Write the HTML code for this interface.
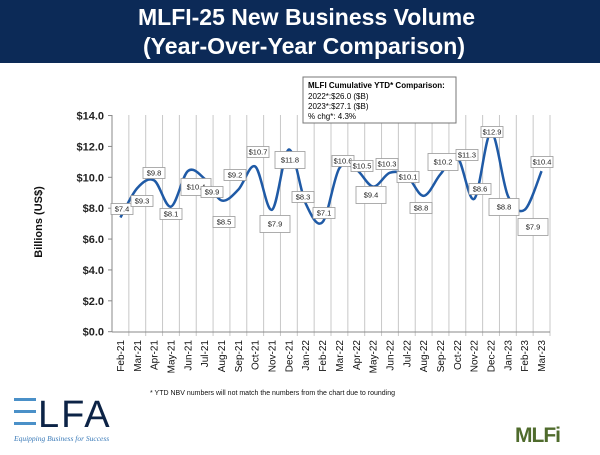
<!DOCTYPE html>
<html><head><meta charset="utf-8"><style>
body{margin:0;width:600px;height:450px;background:#fff;overflow:hidden;font-family:"Liberation Sans",sans-serif}
</style></head><body>
<svg width="600" height="450" xmlns="http://www.w3.org/2000/svg" font-family="Liberation Sans, sans-serif">
<rect x="0" y="0" width="600" height="63" fill="#0c2a57"/>
<text x="138" y="25" fill="#fff" font-size="23" font-weight="bold" textLength="337" lengthAdjust="spacingAndGlyphs">MLFI-25 New Business Volume</text>
<text x="143" y="54" fill="#fff" font-size="23" font-weight="bold" textLength="322" lengthAdjust="spacingAndGlyphs">(Year-Over-Year Comparison)</text>
<g id="grid" stroke="#c8c8c8" stroke-width="1"></g>
<line x1="112" y1="115" x2="112" y2="332" stroke="#888"/>
<line x1="112" y1="332" x2="550" y2="332" stroke="#888"/>
<g id="yl" font-size="11" font-weight="bold" text-anchor="end" fill="#222"></g>
<text transform="translate(42,222) rotate(-90)" font-size="11" font-weight="bold" text-anchor="middle" fill="#111">Billions (US$)</text>
<g id="xl" font-size="10" fill="#111" text-anchor="end"></g>
<path id="ln" fill="none" stroke="#1f5aa6" stroke-width="2.5"/>
<g id="lb" font-size="7.5" text-anchor="middle" fill="#222"></g>
<rect x="303" y="77" width="153" height="46" fill="#fff" stroke="#777"/>
<text x="308" y="88" font-size="8" font-weight="bold">MLFI Cumulative YTD* Comparison:</text>
<text x="308" y="99" font-size="8">2022*:$26.0 ($B)</text>
<text x="308" y="109" font-size="8">2023*:$27.1 ($B)</text>
<text x="308" y="119" font-size="8">% chg*:  4.3%</text>
<text x="150" y="395" font-size="7" fill="#111">*  YTD NBV numbers will not match the numbers from the chart due to rounding</text>
<rect x="14" y="398" width="22" height="3" fill="#4a90c8"/>
<rect x="14" y="410" width="22" height="3" fill="#4a90c8"/>
<rect x="14" y="422" width="22" height="3" fill="#4a90c8"/>
<text x="38" y="427" font-size="38" fill="#0c2346" letter-spacing="2">LFA</text>
<text x="14" y="441" font-size="7.5" font-style="italic" font-family="Liberation Serif, serif" fill="#3a7ab8">Equipping Business for Success</text>
<text x="515" y="442" font-size="21" font-weight="bold" fill="#4f6b2c" letter-spacing="-1">MLFi</text>
</svg>
<script>
const ns="http://www.w3.org/2000/svg";
const v=[7.4,9.3,9.8,8.1,10.4,9.9,8.5,9.2,10.7,7.9,11.8,8.3,7.1,10.6,10.5,9.4,10.3,10.1,8.8,10.2,11.3,8.6,12.9,8.8,7.9,10.4];
const m=["Feb-21","Mar-21","Apr-21","May-21","Jun-21","Jul-21","Aug-21","Sep-21","Oct-21","Nov-21","Dec-21","Jan-22","Feb-22","Mar-22","Apr-22","May-22","Jun-22","Jul-22","Aug-22","Sep-22","Oct-22","Nov-22","Dec-22","Jan-23","Feb-23","Mar-23"];
const L=[[122,209],[142,201],[154,173],[171,214],[196,187,1],[212,192],[224,222],[235,175],[258,152],[275,224,1],[290,160,1],[303,197],[324,213],[343,161],[362,166],[371,195,1],[387,164],[408,177],[421,208],[443,162,1],[467,155],[480,189],[492,132],[504,207,1],[533,227,1],[542,162]];
const w=(550-112)/26,X=i=>112+w*(i+.5),Y=x=>331.7-x*15.44;
function el(t,a,p,txt){const e=document.createElementNS(ns,t);for(const k in a)e.setAttribute(k,a[k]);if(txt)e.textContent=txt;document.getElementById(p).appendChild(e);return e;}
for(let i=1;i<=26;i++){const x=112+w*i;el("line",{x1:x,y1:115,x2:x,y2:332},"grid");el("line",{x1:x,y1:332,x2:x,y2:336},"grid");}
for(let k=0;k<=7;k++){const y=Y(k*2);el("line",{x1:108,y1:y,x2:112,y2:y,stroke:"#888"},"grid");el("text",{x:104,y:y+4},"yl","$"+(k*2).toFixed(1));}
m.forEach((s,i)=>{el("text",{transform:`translate(${X(i)+3.5},${340}) rotate(-90)`},"xl",s);});
const P=v.map((a,i)=>[X(i),Y(a)]);let d="M"+P[0];
for(let i=0;i<P.length-1;i++){const p0=P[i-1]||P[i],p1=P[i],p2=P[i+1],p3=P[i+2]||p2;
d+=` C${p1[0]+(p2[0]-p0[0])/6},${p1[1]+(p2[1]-p0[1])/6} ${p2[0]-(p3[0]-p1[0])/6},${p2[1]-(p3[1]-p1[1])/6} ${p2[0]},${p2[1]}`;}
document.getElementById("ln").setAttribute("d",d);
L.forEach((l,i)=>{const bw=l[2]?30:22,bh=l[2]?17:11;el("rect",{x:l[0]-bw/2,y:l[1]-bh/2,width:bw,height:bh,fill:"#fff",stroke:"#999","stroke-width":.8},"lb");el("text",{x:l[0],y:l[1]+2.7},"lb","$"+v[i].toFixed(1));});
</script>
</body></html>
